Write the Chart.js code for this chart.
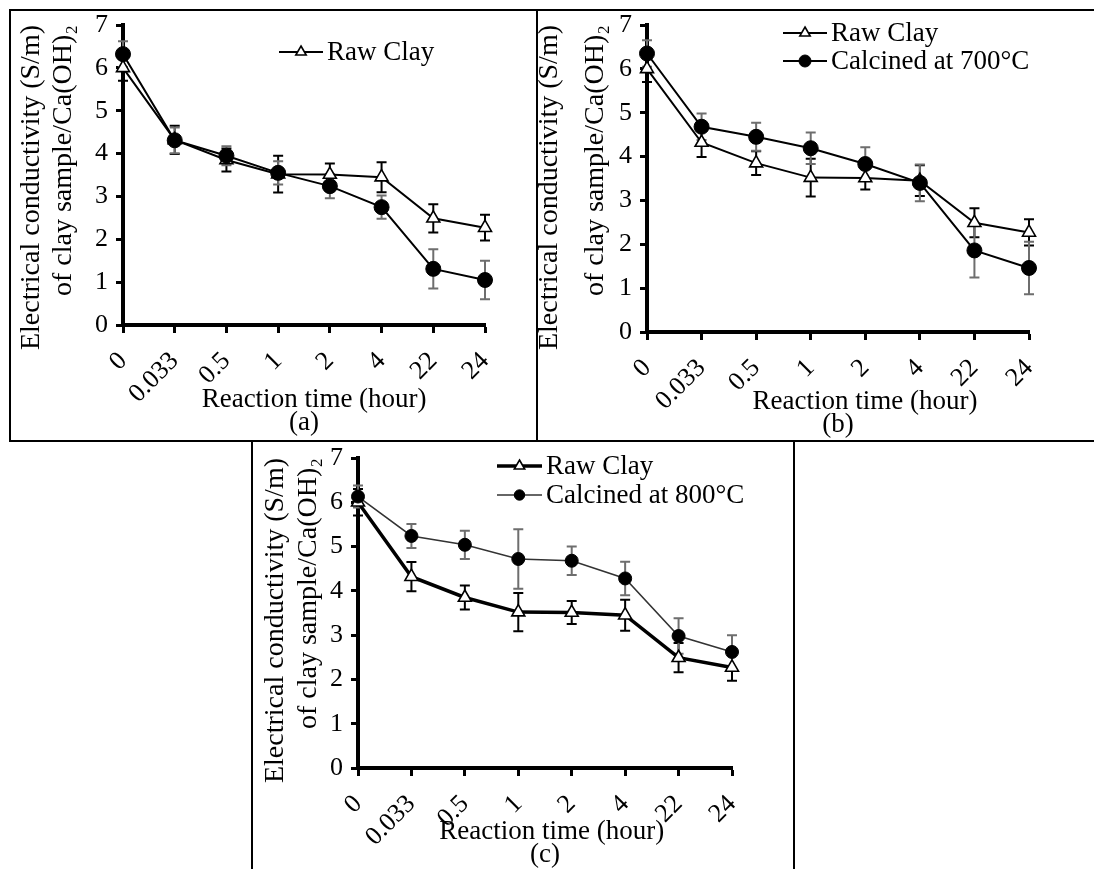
<!DOCTYPE html>
<html>
<head>
<meta charset="utf-8">
<script src="https://cdn.jsdelivr.net/npm/chart.js@4.4.1/dist/chart.umd.min.js"></script>
<style>
  html, body { margin: 0; padding: 0; background: #fff; }
  body { width: 1094px; height: 869px; position: relative; overflow: hidden; }
  .ln { position: absolute; background: #000; }
  canvas { position: absolute; }
</style>
</head>
<body>
<div class="ln" style="left:9px;top:9px;width:1085px;height:2px"></div>
<div class="ln" style="left:9px;top:440px;width:1085px;height:2px"></div>
<div class="ln" style="left:9px;top:9px;width:2px;height:433px"></div>
<div class="ln" style="left:536px;top:9px;width:2px;height:433px"></div>
<div class="ln" style="left:251px;top:440px;width:2px;height:429px"></div>
<div class="ln" style="left:793px;top:440px;width:2px;height:429px"></div>

<canvas id="chartA" width="525" height="429" style="left:11px;top:11px"></canvas>
<canvas id="chartB" width="556" height="429" style="left:538px;top:11px"></canvas>
<canvas id="chartC" width="540" height="427" style="left:253px;top:442px"></canvas>

<script>
// ---------------- DATA ----------------
const timeLabels = ['0', '0.033', '0.5', '1', '2', '4', '22', '24'];
const yTickLabels = ['0', '1', '2', '3', '4', '5', '6', '7'];

const rawClay        = [6.00, 4.32, 3.85, 3.52, 3.51, 3.45, 2.49, 2.27];
const rawClayErr     = [0.30, 0.33, 0.27, 0.43, 0.26, 0.35, 0.33, 0.30];

const clayA          = [6.32, 4.31, 3.95, 3.55, 3.24, 2.75, 1.31, 1.05];
const clayAErr       = [0.30, 0.30, 0.22, 0.27, 0.28, 0.27, 0.46, 0.45];

const calcined700    = [6.35, 4.68, 4.45, 4.19, 3.83, 3.40, 1.86, 1.46];
const calcined700Err = [0.30, 0.30, 0.32, 0.36, 0.38, 0.42, 0.62, 0.60];

const calcined800    = [6.13, 5.24, 5.04, 4.72, 4.68, 4.28, 2.98, 2.62];
const calcined800Err = [0.25, 0.27, 0.32, 0.67, 0.32, 0.38, 0.40, 0.38];

const yTitle = ['Electrical conductivity (S/m)', 'of clay sample/Ca(OH)\u2082'];
const xTitle = 'Reaction time (hour)';

// ---------------- STYLE / PLUGINS ----------------
const FONT = "'Liberation Serif', 'Times New Roman', serif";
Chart.defaults.font.family = FONT;
Chart.defaults.color = '#000';

function drawMarker(ctx, ds, x, y) {
  const r = ds.pointRadius;
  ctx.save();
  ctx.lineWidth = ds.pointBorderWidth;
  ctx.strokeStyle = ds.pointBorderColor;
  ctx.fillStyle = ds.pointBackgroundColor;
  ctx.beginPath();
  if (ds.pointStyle === 'triangle') {
    let a = 0;
    ctx.moveTo(x + Math.sin(a) * r, y - Math.cos(a) * r);
    a += 2 * Math.PI / 3;
    ctx.lineTo(x + Math.sin(a) * r, y - Math.cos(a) * r);
    a += 2 * Math.PI / 3;
    ctx.lineTo(x + Math.sin(a) * r, y - Math.cos(a) * r);
    ctx.closePath();
  } else {
    ctx.arc(x, y, r, 0, Math.PI * 2);
  }
  ctx.fill();
  ctx.stroke();
  ctx.restore();
}

const errorBars = {
  id: 'errorBars',
  beforeDatasetsDraw(chart) {
    const ctx = chart.ctx;
    const yScale = chart.scales.y;
    chart.data.datasets.forEach((ds, i) => {
      if (!ds.errors) return;
      const meta = chart.getDatasetMeta(i);
      ctx.save();
      ctx.strokeStyle = ds.errorColor;
      ctx.lineWidth = ds.errorWidth;
      meta.data.forEach((pt, j) => {
        const v = ds.data[j], e = ds.errors[j];
        const yt = yScale.getPixelForValue(v + e);
        const yb = yScale.getPixelForValue(v - e);
        const c = ds.errorCap;
        ctx.beginPath();
        ctx.moveTo(pt.x, yt); ctx.lineTo(pt.x, yb);
        ctx.moveTo(pt.x - c, yt); ctx.lineTo(pt.x + c, yt);
        ctx.moveTo(pt.x - c, yb); ctx.lineTo(pt.x + c, yb);
        ctx.stroke();
      });
      ctx.restore();
    });
  }
};

const insideLegend = {
  id: 'insideLegend',
  afterDatasetsDraw(chart, args, opts) {
    const ctx = chart.ctx;
    let row = 0;
    chart.data.datasets.forEach(ds => {
      if (!ds.legendText) return;
      const y = opts.y + row * opts.rowGap;
      const x0 = opts.x, x1 = opts.x + opts.lineLen;
      ctx.save();
      ctx.strokeStyle = ds.borderColor;
      ctx.lineWidth = ds.borderWidth;
      ctx.beginPath(); ctx.moveTo(x0, y); ctx.lineTo(x1, y); ctx.stroke();
      drawMarker(ctx, Object.assign({}, ds, {pointRadius: ds.pointRadius * opts.markerScale}), (x0 + x1) / 2, y);
      ctx.fillStyle = '#000';
      ctx.font = opts.size + 'px ' + FONT;
      ctx.textAlign = 'left';
      ctx.textBaseline = 'middle';
      ctx.fillText(ds.legendText, x1 + opts.textGap, y + 1);
      ctx.restore();
      row++;
    });
  }
};

function rawDataset(lineWidth, legend) {
  return {
    label: 'Raw Clay',
    legendText: legend ? 'Raw Clay' : null,
    data: rawClay,
    errors: rawClayErr,
    errorColor: '#000', errorWidth: 2, errorCap: 5,
    borderColor: '#000', borderWidth: lineWidth,
    pointStyle: 'triangle', pointRadius: 7.5, pointHoverRadius: 7.5,
    pointBackgroundColor: '#fff', pointBorderColor: '#000', pointBorderWidth: 1.6,
    tension: 0, order: 1
  };
}

function calcDataset(label, values, errs, lineWidth, lineColor, radius, legend) {
  return {
    label: label,
    legendText: legend ? label : null,
    data: values,
    errors: errs,
    errorColor: '#6e6e6e', errorWidth: 2, errorCap: 5,
    borderColor: lineColor, borderWidth: lineWidth,
    pointStyle: 'circle', pointRadius: radius, pointHoverRadius: radius,
    pointBackgroundColor: '#000', pointBorderColor: '#000', pointBorderWidth: 1,
    tension: 0, order: 0
  };
}

function makeChart(id, datasets, g) {
  return new Chart(document.getElementById(id), {
    type: 'line',
    data: { labels: timeLabels, datasets: datasets },
    plugins: [errorBars, insideLegend],
    options: {
      responsive: false,
      animation: false,
      devicePixelRatio: 1,
      layout: { padding: { left: 0, top: g.top, right: g.right, bottom: 0 } },
      plugins: {
        legend: { display: false },
        tooltip: { enabled: false },
        insideLegend: g.legend
      },
      scales: {
        x: {
          type: 'category',
          offset: false,
          afterFit(s) { s.height = g.xH; },
          ticks: {
            autoSkip: false, minRotation: 45, maxRotation: 45,
            font: { size: 26, family: FONT }, color: '#000', padding: 13
          },
          grid: { drawOnChartArea: false, drawTicks: true, tickLength: 8, tickWidth: 3, tickColor: '#000', offset: false },
          border: { display: true, width: 4, color: '#000' },
          title: {
            display: true, text: ['\u00a0'.repeat(g.xShift) + xTitle, g.panel], color: '#000',
            font: { size: 27, family: FONT, lineHeight: '23px' },
            padding: { top: 0, bottom: g.xTitlePad }
          }
        },
        y: {
          min: 0, max: 7,
          afterFit(s) { s.width = g.yW; },
          ticks: {
            stepSize: 1, font: { size: 26, family: FONT, lineHeight: '10px' }, color: '#000', padding: 8,
            callback: (v) => yTickLabels[v]
          },
          grid: { drawOnChartArea: false, drawTicks: true, tickLength: 7, tickWidth: 3, tickColor: '#000' },
          border: { display: true, width: 4, color: '#000' },
          title: {
            display: true, text: yTitle, color: '#000', align: 'end',
            font: { size: 28, family: FONT, lineHeight: g.yTitleLH + 'px' },
            padding: { top: g.yTitlePad, bottom: 0 }
          }
        }
      }
    }
  });
}

makeChart('chartA', [
  rawDataset(2, true),
  calcDataset('Clay', clayA, clayAErr, 2, '#000', 7.5, false)
], { top: 14, right: 51, xH: 115, yW: 112, xTitlePad: 5.5, yTitlePad: 5, yTitleLH: 32, xShift: 3, panel: '(a)',
     legend: { x: 268, y: 41, rowGap: 28, lineLen: 44, textGap: 4, size: 27, markerScale: 0.8 } });

makeChart('chartB', [
  rawDataset(2, true),
  calcDataset('Calcined at 700°C', calcined700, calcined700Err, 2, '#000', 7.5, true)
], { top: 14, right: 65, xH: 108, yW: 109, xTitlePad: 3.5, yTitlePad: -11, yTitleLH: 46, xShift: 8, panel: '(b)',
     legend: { x: 245, y: 22, rowGap: 28, lineLen: 44, textGap: 4, size: 27, markerScale: 0.8 } });

makeChart('chartC', [
  rawDataset(3.5, true),
  calcDataset('Calcined at 800°C', calcined800, calcined800Err, 1.5, '#333', 6.5, true)
], { top: 16, right: 61, xH: 101, yW: 105, xTitlePad: 2.5, yTitlePad: 6, yTitleLH: 33, xShift: 2, panel: '(c)',
     legend: { x: 244, y: 24, rowGap: 29, lineLen: 45, textGap: 4, size: 27, markerScale: 0.8 } });
</script>
</body>
</html>
